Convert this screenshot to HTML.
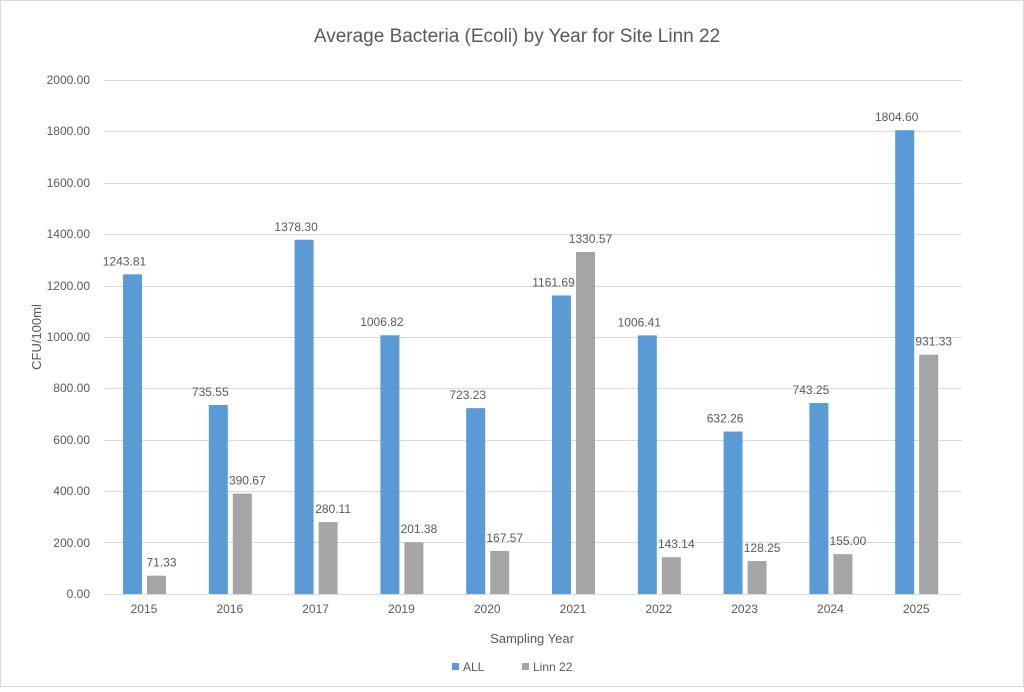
<!DOCTYPE html>
<html><head><style>
body{margin:0;background:#fff;}
svg text{font-family:"Liberation Sans",Arial,sans-serif;fill:#595959;}
</style></head><body>
<svg width="1024" height="687" xmlns="http://www.w3.org/2000/svg">
<rect x="0.5" y="0.5" width="1023" height="686" fill="#fff" stroke="#d9d9d9"/>
<text x="517" y="42" font-size="19" text-anchor="middle">Average Bacteria (Ecoli) by Year for Site Linn 22</text>
<g stroke="#d9d9d9" stroke-width="1">
<line x1="104" x2="962" y1="80.5" y2="80.5"/>
<line x1="104" x2="962" y1="131.5" y2="131.5"/>
<line x1="104" x2="962" y1="183.5" y2="183.5"/>
<line x1="104" x2="962" y1="234.5" y2="234.5"/>
<line x1="104" x2="962" y1="286.5" y2="286.5"/>
<line x1="104" x2="962" y1="337.5" y2="337.5"/>
<line x1="104" x2="962" y1="388.5" y2="388.5"/>
<line x1="104" x2="962" y1="440.5" y2="440.5"/>
<line x1="104" x2="962" y1="491.5" y2="491.5"/>
<line x1="104" x2="962" y1="542.5" y2="542.5"/>
<line x1="104" x2="962" y1="594.5" y2="594.5"/>
</g>
<g font-size="12" text-anchor="end">
<text x="90" y="598">0.00</text>
<text x="90" y="547">200.00</text>
<text x="90" y="495">400.00</text>
<text x="90" y="444">600.00</text>
<text x="90" y="392">800.00</text>
<text x="90" y="341">1000.00</text>
<text x="90" y="290">1200.00</text>
<text x="90" y="238">1400.00</text>
<text x="90" y="187">1600.00</text>
<text x="90" y="135">1800.00</text>
<text x="90" y="84">2000.00</text>
</g>
<text transform="translate(41,337) rotate(-90)" font-size="13" text-anchor="middle">CFU/100ml</text>
<text x="532" y="643" font-size="13" text-anchor="middle">Sampling Year</text>
<g id="bars" font-size="12" text-anchor="middle"></g>
<rect x="452" y="663" width="7" height="7" fill="#5b9bd5"/>
<text x="463" y="671" font-size="12">ALL</text>
<rect x="522" y="663" width="7" height="7" fill="#a5a5a5"/>
<text x="533" y="671" font-size="12">Linn 22</text>
</svg>
<script>
var d=[["2015",1243.81,71.33],["2016",735.55,390.67],["2017",1378.30,280.11],["2019",1006.82,201.38],["2020",723.23,167.57],["2021",1161.69,1330.57],["2022",1006.41,143.14],["2023",632.26,128.25],["2024",743.25,155.00],["2025",1804.60,931.33]];
var g=document.getElementById('bars'),h="";
d.forEach(function(r,i){var c=147+i*85.8;
function bar(x,v,col){var y=594-v*0.257;h+='<rect x="'+x+'" y="'+y+'" width="19" height="'+(594-y)+'" fill="'+col+'"/>';h+='<text x="'+(x+9.5+ (col=="#a5a5a5"?5:-8))+'" y="'+(y-9)+'">'+v.toFixed(2)+'</text>';}
bar(c-24,r[1],"#5b9bd5");bar(c,r[2],"#a5a5a5");
h+='<text x="'+(c-3)+'" y="613">'+r[0]+'</text>';});
g.innerHTML=h;
</script>
</body></html>
